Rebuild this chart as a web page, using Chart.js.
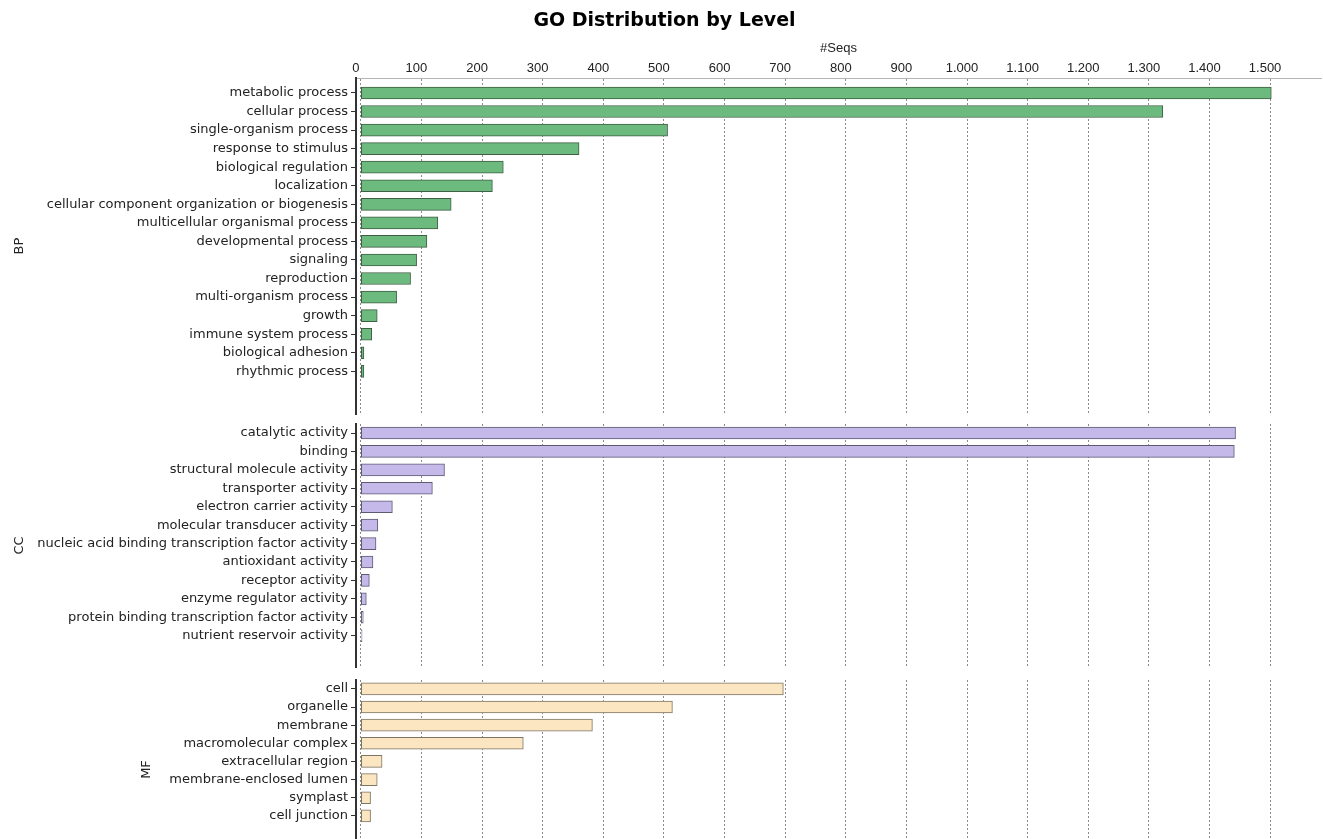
<!DOCTYPE html>
<html>
<head>
<meta charset="utf-8">
<title>GO Distribution by Level</title>
<script src="https://cdn.jsdelivr.net/npm/chart.js@4.4.1/dist/chart.umd.min.js"></script>
<style>
  html, body { margin: 0; padding: 0; background: #fff; overflow: hidden; }
  #wrap { position: relative; width: 1323px; height: 839px; }
  .panel { position: absolute; left: 0; width: 1323px; }
</style>
</head>
<body>
<div id="wrap">
  <div class="panel" style="top:0;height:425px"><canvas id="bpChart"></canvas></div>
  <div class="panel" style="top:413px;height:265px"><canvas id="ccChart"></canvas></div>
  <div class="panel" style="top:669px;height:201px"><canvas id="mfChart"></canvas></div>
</div>
<script>
// GO terms per level and number of sequences
const bpLabels = ['metabolic process', 'cellular process', 'single-organism process', 'response to stimulus',
  'biological regulation', 'localization', 'cellular component organization or biogenesis',
  'multicellular organismal process', 'developmental process', 'signaling', 'reproduction',
  'multi-organism process', 'growth', 'immune system process', 'biological adhesion', 'rhythmic process'];
const bpValues = [1502, 1323, 506, 360, 235, 217, 149, 127, 109, 92, 82, 59, 27, 18, 5, 5];

const ccLabels = ['catalytic activity', 'binding', 'structural molecule activity', 'transporter activity',
  'electron carrier activity', 'molecular transducer activity', 'nucleic acid binding transcription factor activity',
  'antioxidant activity', 'receptor activity', 'enzyme regulator activity',
  'protein binding transcription factor activity', 'nutrient reservoir activity'];
const ccValues = [1443, 1441, 138, 118, 52, 28, 25, 20, 14, 9, 4, 2];

const mfLabels = ['cell', 'organelle', 'membrane', 'macromolecular complex', 'extracellular region',
  'membrane-enclosed lumen', 'symplast', 'cell junction'];
const mfValues = [697, 514, 382, 268, 35, 27, 16, 16];

const xTicks = [0, 100, 200, 300, 400, 500, 600, 700, 800, 900, 1000, 1100, 1200, 1300, 1400, 1500];

const labelFont = { family: 'DejaVu Sans', size: 13 };
const numFont = { family: 'Liberation Sans', size: 13 };

function fmt(v) {
  return String(v).replace(/\B(?=(\d{3})+(?!\d))/g, '.');
}

function makePanel(id, name, labels, values, colors, opts) {
  const ctx = document.getElementById(id).getContext('2d');
  return new Chart(ctx, {
    type: 'bar',
    data: {
      datasets: [{
        data: values.map((v, i) => ({ x: v, y: i })),
        backgroundColor: colors[0],
        borderColor: colors[1],
        borderWidth: 1,
        borderSkipped: false,
        barThickness: 12
      }]
    },
    options: {
      indexAxis: 'y',
      responsive: true,
      maintainAspectRatio: false,
      animation: false,
      layout: { padding: { left: opts.padLeft, right: 2, top: opts.top ? 0 : 10, bottom: 10 } },
      plugins: {
        legend: { display: false },
        tooltip: { enabled: false },
        title: {
          display: !!opts.top,
          text: 'GO Distribution by Level',
          color: '#000',
          font: { family: 'DejaVu Sans', size: 19, weight: 'bold' },
          padding: { top: 10, bottom: 2 }
        }
      },
      scales: {
        x: {
          type: 'linear',
          position: 'top',
          min: -8,
          max: 1584,
          afterBuildTicks: (axis) => { axis.ticks = xTicks.map(v => ({ value: v })); },
          title: {
            display: !!opts.top,
            text: '#Seqs',
            color: '#222',
            font: numFont,
            padding: { top: 6, bottom: 2 }
          },
          ticks: {
            display: !!opts.top,
            color: '#222',
            font: numFont,
            padding: 2,
            labelOffset: -5,
            maxRotation: 0,
            callback: (v) => fmt(v)
          },
          grid: { color: '#8a8a8a', lineWidth: 1, drawTicks: false },
          border: { display: !!opts.top, color: '#b5b5b5', width: 1, dash: [2, 2] }
        },
        y: {
          type: 'linear',
          reverse: true,
          offset: false,
          min: opts.yMin,
          max: opts.yMax,
          afterBuildTicks: (axis) => { axis.ticks = labels.map((_, i) => ({ value: i })); },
          afterFit: (axis) => { axis.width = 356 - opts.padLeft; },
          title: {
            display: true,
            text: name,
            color: '#222',
            font: { family: 'DejaVu Sans', size: 13 }
          },
          ticks: {
            color: '#222',
            font: labelFont,
            padding: 3,
            autoSkip: false,
            callback: (v) => labels[v] ?? ''
          },
          grid: {
            display: true,
            offset: false,
            drawOnChartArea: false,
            drawTicks: true,
            tickLength: 5,
            tickColor: '#333'
          },
          border: { display: true, color: '#333', width: 2 }
        }
      }
    }
  });
}

makePanel('bpChart', 'BP', bpLabels, bpValues, ['#6dba7e', '#3e5e45'],
  { top: true, padLeft: 8, yMin: -0.806, yMax: 17.31 });
makePanel('ccChart', 'CC', ccLabels, ccValues, ['#c5b9ea', '#5d5a72'],
  { padLeft: 8, yMin: -0.5, yMax: 12.71 });
makePanel('mfChart', 'MF', mfLabels, mfValues, ['#fbe6c1', '#7d7563'],
  { padLeft: 135, yMin: -0.5, yMax: 9.39 });
</script>
</body>
</html>
